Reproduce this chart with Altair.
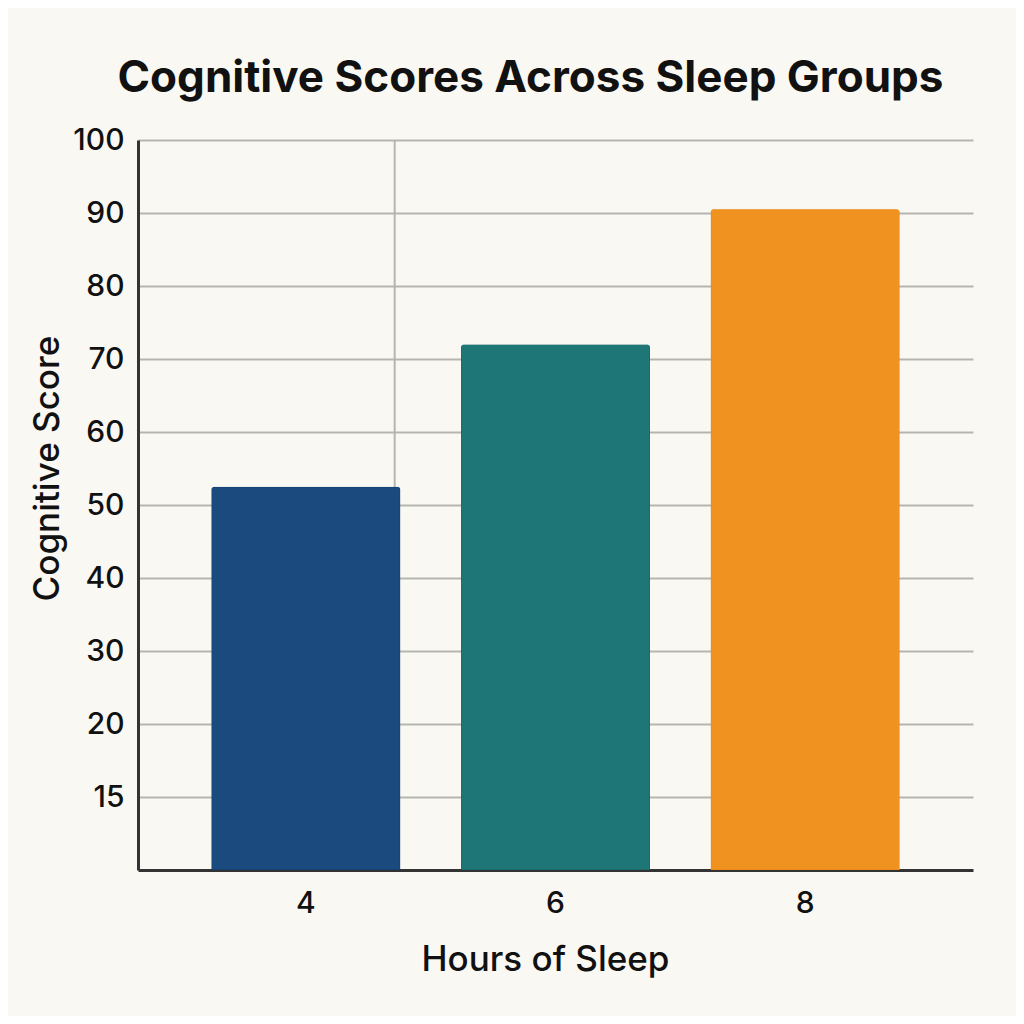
import altair as alt
import pandas as pd

hours = ["4", "6", "8"]
scores = [52.5, 72.0, 90.5]
colors = ["#1B4A7E", "#1F7676", "#F0921F"]
strokes = ["#123868", "#16605F", "#E9830F"]

y_tick_values = [10, 20, 30, 40, 50, 60, 70, 80, 90, 100]
y_tick_labels = ["15", "20", "30", "40", "50", "60", "70", "80", "90", "100"]

df = pd.DataFrame({"hours": hours, "score": scores, "color": colors, "stroke": strokes})

label_expr = " : ".join(
    [f"datum.value == {v} ? '{l}'" for v, l in zip(y_tick_values, y_tick_labels)] + ["datum.label"]
)

FONT = "Inter"

x_scale = alt.Scale(domain=hours, paddingInner=0.243, paddingOuter=0.294)
y_scale = alt.Scale(domain=[0, 100], nice=False)

bars = alt.Chart(df).mark_bar(
    cornerRadiusTopLeft=3, cornerRadiusTopRight=3, strokeWidth=1.2
).encode(
    x=alt.X("hours:N", scale=x_scale, sort=hours,
            axis=alt.Axis(title="Hours of Sleep", labelAngle=0, labelFontSize=30,
                          labelFontWeight=500, labelPadding=33, titleFontSize=35,
                          titlePadding=24, titleFontWeight=500, grid=False, ticks=False,
                          bandPosition=0.5, labelAlign="center",
                          domainColor="#333333", domainWidth=3, labelColor="#111111",
                          titleColor="#111111", labelFont=FONT, titleFont=FONT,
                          titleX=407)),
    y=alt.Y("score:Q", scale=y_scale,
            axis=alt.Axis(title="Cognitive Score", values=y_tick_values, labelExpr=label_expr,
                          labelFontSize=30, labelFontWeight=500, labelPadding=14,
                          titleFontSize=35, titleFontWeight=500,
                          gridColor="#B5B5B0", gridWidth=2,
                          ticks=False, domainColor="#333333", domainWidth=3,
                          labelColor="#111111", titleColor="#111111",
                          labelFont=FONT, titleFont=FONT,
                          titleX=-91, titleY=328, titleBaseline="middle")),
    color=alt.Color("color:N", scale=None),
    stroke=alt.Stroke("stroke:N", scale=None),
)

vgrid_df = pd.DataFrame({"hours": [hours[0]]})
vgrid = alt.Chart(vgrid_df).mark_rule(color="#B5B5B0", strokeWidth=2).encode(
    x=alt.X("hours:N", scale=x_scale, sort=hours, bandPosition=0.97),
    y=alt.value(0),
    y2=alt.value(730),
)

chart = alt.layer(vgrid, bars).properties(
    width=835,
    height=730,
    title=alt.TitleParams("Cognitive Scores Across Sleep Groups", fontSize=44,
                          fontWeight="bold", font=FONT, color="#111111",
                          offset=24, dx=-25),
    background="#FAF8F3",
    padding={"left": 130, "top": 132, "right": 43, "bottom": 146},
    autosize=alt.AutoSizeParams(type="none"),
).configure_view(stroke=None)

chart.save("out.html", embed_options={"renderer": "svg", "actions": False})
